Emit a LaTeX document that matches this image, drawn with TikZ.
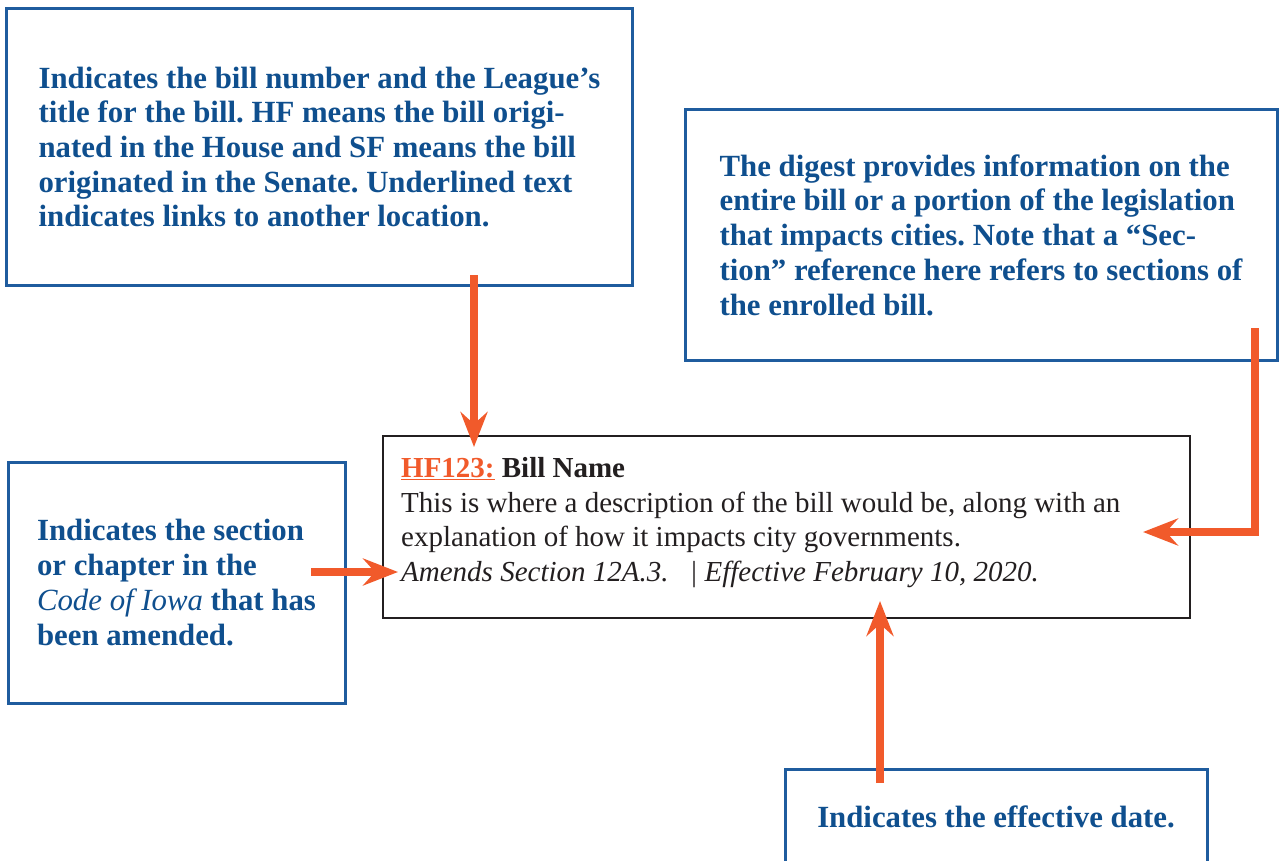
\documentclass[tikz,border=0pt]{standalone}
\usepackage{fontspec}
\setmainfont{Liberation Serif}
\usetikzlibrary{arrows.meta}
\definecolor{boxblue}{HTML}{1F5C9E}
\definecolor{txtblue}{HTML}{0F4F8E}
\definecolor{arrorange}{HTML}{F15A2B}
\definecolor{billgray}{HTML}{231F20}
\frenchspacing
\begin{document}
\begin{tikzpicture}[x=1pt,y=-1pt,
 note/.style={draw=boxblue, line width=3pt, inner sep=0pt, align=left, text=txtblue, font=\fontsize{30.8}{34.7}\selectfont\bfseries},
 billbox/.style={draw=billgray, line width=2.5pt, inner sep=0pt},
 billtxt/.style={inner sep=0pt, align=left, text=billgray, font=\fontsize{29}{34.7}\selectfont},
 callout/.style={draw=arrorange, line width=8pt, line join=miter, -{Stealth[length=35pt,width=27pt,inset=12pt]}}]
\useasboundingbox (0,0) rectangle (1282,861);
\clip (0,0) rectangle (1282,861);
\node[note, minimum width=626pt, minimum height=276pt] (tl) at (319.5,147) {Indicates the bill number and the League’s\\title for the bill. HF means the bill origi-\\nated in the House and SF means the bill\\originated in the Senate. Underlined text\\indicates links to another location.};
\node[note, minimum width=592pt, minimum height=250pt] (tr) at (981,235) {The digest provides information on the\\entire bill or a portion of the legislation\\that impacts cities. Note that a “Sec-\\tion” reference here refers to sections of\\the enrolled bill.};
\node[note, minimum width=337pt, minimum height=241pt] (lb) at (176.5,582.5) {Indicates the section\\or chapter in the\\{\mdseries\itshape Code of Iowa} that has\\been amended.};
\node[note, minimum width=422pt, minimum height=96pt] (bt) at (996,817) {Indicates the effective date.};
\node[billbox, minimum width=807pt, minimum height=182pt] (bill) at (786.5,527) {};
\node[billtxt, anchor=north west] (billtext) at (401,457) {{\color{arrorange}\bfseries\underline{HF123:}} {\bfseries Bill Name}\\This is where a description of the bill would be, along with an\\explanation of how it impacts city governments.\\\textit{Amends Section 12A.3.\hspace{21pt}|\hspace{7pt}Effective February 10, 2020.}};
\coordinate (a1s) at (474,275);
\coordinate (a1e) at (474,447);
\coordinate (a2s) at (1255,328);
\coordinate (a2e) at (1143,532);
\coordinate (a3s) at (311,572);
\coordinate (a3e) at (398,572);
\coordinate (a4s) at (880,783);
\coordinate (a4e) at (880,601);
\draw[callout] (a1s) -- (a1e);
\draw[callout] (a2s) |- (a2e);
\draw[callout] (a3s) -- (a3e);
\draw[callout] (a4s) -- (a4e);
\end{tikzpicture}
\end{document}
